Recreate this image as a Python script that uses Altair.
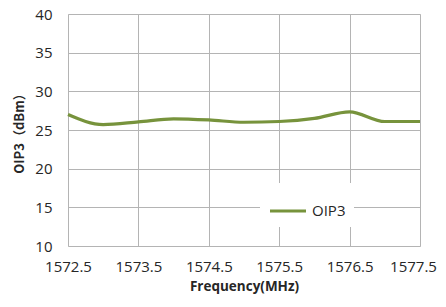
import altair as alt
import pandas as pd

freq = [1572.5, 1573.0, 1573.5, 1574.0, 1574.5, 1575.0, 1575.5, 1576.0, 1576.5, 1577.0, 1577.5]
oip3 = [27.0, 25.7, 26.05, 26.45, 26.3, 26.0, 26.1, 26.5, 27.35, 26.1, 26.1]
series = ["OIP3"] * len(freq)
x_ticks = [1572.5, 1573.5, 1574.5, 1575.5, 1576.5, 1577.5]
y_ticks = [10, 15, 20, 25, 30, 35, 40]

df = pd.DataFrame({"freq": freq, "oip3": oip3, "series": series})

FONT = "Open Sans"
TXT = "#262626"
GRID = "#b4b4b4"

chart = alt.Chart(df).mark_line(interpolate="monotone", strokeWidth=3.2).encode(
    x=alt.X("freq:Q", scale=alt.Scale(domain=[1572.5, 1577.5], nice=False, zero=False),
            axis=alt.Axis(values=x_ticks, format=".1f", title="Frequency(MHz)",
                          labelFont=FONT, labelFontSize=15, labelColor=TXT, labelPadding=13,
                          labelOffset=alt.condition("datum.value == 1577.5", alt.value(-7), alt.value(0)),
                          titleFont=FONT, titleFontSize=13.5, titleFontWeight="bold", titleColor=TXT,
                          titlePadding=5, tickSize=0, domain=False, grid=True, gridColor=GRID,
                          labelFlush=False)),
    y=alt.Y("oip3:Q", scale=alt.Scale(domain=[10, 40], nice=False, zero=False),
            axis=alt.Axis(values=y_ticks, title="OIP3（dBm）",
                          labelFont=FONT, labelFontSize=15, labelColor=TXT, labelPadding=16,
                          titleFont="Noto Sans CJK SC", titleFontSize=13, titleFontWeight="bold", titleColor=TXT,
                          titlePadding=8, tickSize=0, domain=False, grid=True, gridColor=GRID)),
    color=alt.Color("series:N", scale=alt.Scale(range=["#77933C"]),
                    legend=alt.Legend(title=None, orient="none", legendX=192, legendY=169,
                                      symbolType="stroke", symbolSize=1296, symbolStrokeWidth=3.2,
                                      labelFont=FONT, labelFontSize=15, labelColor=TXT,
                                      fillColor="white", padding=8, labelOffset=4)),
).properties(
    width=352, height=232,
    autosize=alt.AutoSizeParams(type="none"),
    padding={"left": 60, "top": 6, "right": 18, "bottom": 48},
).configure_view(stroke=None).configure(background="white")

chart.save("out.html", embed_options={"renderer": "svg", "actions": False})
